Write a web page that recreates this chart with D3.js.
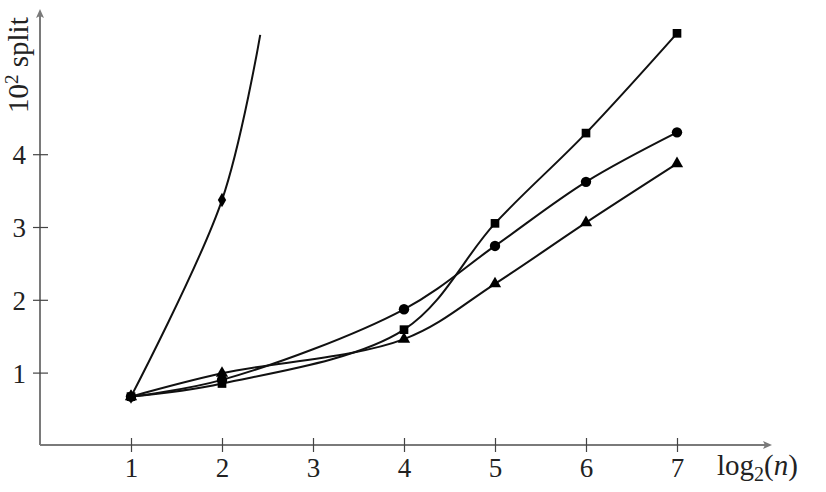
<!DOCTYPE html>
<html><head><meta charset="utf-8">
<script src="https://cdn.jsdelivr.net/npm/d3@7"></script>
<style>body{margin:0;background:#fff}svg{display:block}text{font-family:"Liberation Serif","DejaVu Serif",serif;fill:#222}</style>
</head><body><svg id="c" width="826" height="492"></svg>
<script>
const xTicks = [1,2,3,4,5,6,7];
const yTicks = [1,2,3,4];
const xs = [1,2,4,5,6,7];
const squareY   = [0.67,0.85,1.59,3.05,4.29,5.66];
const circleY   = [0.67,0.90,1.87,2.74,3.62,4.30];
const triangleY = [0.67,0.99,1.46,2.22,3.06,3.87];
const diamondX  = [1,2,2.42];
const diamondY  = [0.67,3.37,5.64];
const diamondMarked = [true,true,false];

const svg = d3.select("#c");
const x = d3.scaleLinear().domain([0,7]).range([40,677]);
const y = d3.scaleLinear().domain([0,4]).range([445.4,154.2]);

// axes
const axisCol = "#7a7a7a";
svg.append("line").attr("x1",40).attr("x2",766).attr("y1",445).attr("y2",445).attr("stroke",axisCol).attr("stroke-width",2);
svg.append("path").attr("d","M772,445 L763,441 L765,445 L763,449 Z").attr("fill",axisCol);
svg.append("line").attr("x1",40).attr("x2",40).attr("y1",445).attr("y2",15).attr("stroke",axisCol).attr("stroke-width",2);
svg.append("path").attr("d","M40,9 L36,18 L40,16 L44,18 Z").attr("fill",axisCol);

const fmt = d3.format("d");
const xAxis = d3.axisBottom(x).tickValues(xTicks).tickFormat(fmt).tickSize(0).tickPadding(0);
const gx = svg.append("g").attr("transform","translate(0,445)").call(xAxis);
gx.select(".domain").remove();
gx.selectAll(".tick").append("line").attr("y1",-7).attr("y2",7).attr("stroke","#444").attr("stroke-width",1.2);
gx.selectAll("text").attr("y",32).attr("dy",0).style("font-size","27px").attr("fill","#222").style("font-family","Liberation Serif, serif");

const yAxis = d3.axisLeft(y).tickValues(yTicks).tickFormat(fmt).tickSize(0).tickPadding(0);
const gy = svg.append("g").attr("transform","translate(40,0)").call(yAxis);
gy.select(".domain").remove();
gy.selectAll(".tick").append("line").attr("x1",-7).attr("x2",8).attr("stroke","#444").attr("stroke-width",1.2);
gy.selectAll("text").attr("x",-14).attr("dy","0.35em").style("font-size","27px").attr("fill","#222").style("font-family","Liberation Serif, serif");

// labels
const xl = svg.append("text").attr("x",717).attr("y",475).style("font-size","29px");
xl.append("tspan").text("log");
xl.append("tspan").style("font-size","20px").attr("dy",6).text("2");
xl.append("tspan").attr("dy",-6).text("(");
xl.append("tspan").attr("font-style","italic").text("n");
xl.append("tspan").text(")");
const yl = svg.append("text").attr("transform","translate(28,113) rotate(-90)").style("font-size","29px");
yl.append("tspan").text("10");
yl.append("tspan").style("font-size","19px").attr("dy",-10).text("2");
yl.append("tspan").attr("dy",10).text(" split");

const line = d3.line().curve(d3.curveCatmullRom.alpha(0.5)).x(d=>x(d[0])).y(d=>y(d[1]));
function drawSeries(xv, yv){
  svg.append("path").datum(xv.map((v,i)=>[v,yv[i]])).attr("d",line)
    .attr("fill","none").attr("stroke","#111").attr("stroke-width",2);
}
drawSeries(diamondX, diamondY);
drawSeries(xs, squareY);
drawSeries(xs, circleY);
drawSeries(xs, triangleY);

const sym = (type,size)=>d3.symbol().type(type).size(size)();
function markers(xv,yv,type,size,filter){
  svg.append("g").selectAll("path").data(xv.map((v,i)=>[v,yv[i]]).filter((d,i)=>!filter||filter[i]))
    .join("path").attr("d",sym(type,size)).attr("fill","#000")
    .attr("transform",d=>`translate(${x(d[0])},${y(d[1])})`);
}
markers(xs, squareY, d3.symbolSquare, 75);
markers(xs, circleY, d3.symbolCircle, 85);
markers(xs, triangleY, d3.symbolTriangle, 65);
markers(diamondX, diamondY, d3.symbolDiamond, 60, diamondMarked);
</script></body></html>
